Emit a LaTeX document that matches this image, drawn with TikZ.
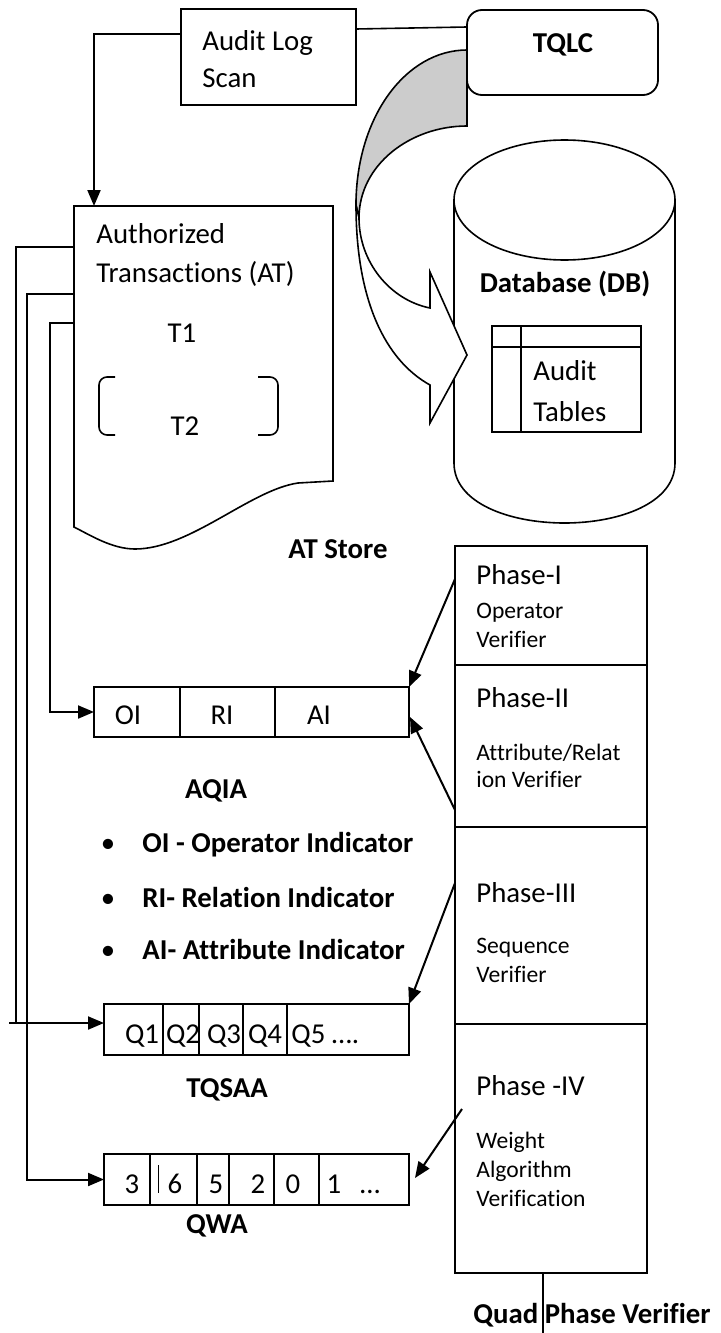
\documentclass[tikz,border=0pt]{standalone}
\usepackage{fontspec}
\setmainfont{Carlito}[Ligatures=NoCommon]
\usetikzlibrary{arrows.meta, positioning, calc}

\begin{document}
\begin{tikzpicture}[
    x=0.5pt, y=-0.5pt,
    box/.style={rectangle, draw, line width=0.9pt, inner sep=0pt, outer sep=0pt},
    lbl/.style={inner sep=0pt, font={\fontsize{14.4pt}{19.5pt}\selectfont}},
    bold/.style={inner sep=0pt, font={\fontsize{14.4pt}{19.5pt}\selectfont\bfseries}},
    small/.style={inner sep=0pt, font={\fontsize{11.8pt}{14.5pt}\selectfont}},
    arrow/.style={-{Triangle[length=8pt, width=6.5pt]}, line width=1pt},
    wire/.style={line width=0.8pt}
]
    \useasboundingbox (0,0) rectangle (720,1333);

    % log scan and TQLC
    \node[box, minimum width=87.5pt, minimum height=48pt] (audit) at (268.5,57) {};
    \node[lbl, anchor=base west, align=left] (audittxt) at (202,87) {Audit Log\\[-1pt]Scan};
    \node[box, rounded corners=7.5pt, minimum width=95.5pt, minimum height=42.5pt] (tqlc) at (562.5,52.5) {};
    \node[bold, anchor=base] (tqlctxt) at (563,52) {TQLC};

    % database cylinder
    \draw[wire] (454,200) -- (454,463) .. controls (454,543) and (675,543) .. (675,463) -- (675,200);
    \draw[wire] (564.5,200) ellipse [x radius=110.5, y radius=60];
    \node[bold, anchor=base] (dbtxt) at (565,292) {Database (DB)};
    \node[box, minimum width=74.5pt, minimum height=53pt] (tbl) at (566.5,379) {};
    \draw[wire] ($(tbl.north west)+(0,21)$) -- ($(tbl.north east)+(0,21)$);
    \draw[wire] ($(tbl.north west)+(29,0)$) -- ($(tbl.south west)+(29,0)$);
    \node[lbl, anchor=base west, align=left] (tbltxt) at (533,421) {Audit\\[1pt]Tables};

    % curved arrow TQLC -> DB
    \filldraw[wire, fill=gray!40] (467,50) .. controls (406,50) and (356,117) .. (356,205)
        -- (359,218) .. controls (359,165) and (410,126) .. (467,126) -- cycle;
    \filldraw[wire, fill=white] (356,205) .. controls (356,300) and (385,360) .. (430,385)
        -- (430,423) -- (467,355) -- (430,272) -- (430,308)
        .. controls (390,300) and (359,262) .. (359,218) -- cycle;

    % AT store document
    \draw[wire] (74,206) -- (333,206) -- (333,481) -- (298,483)
        .. controls (250,490) and (190,549) .. (135,549)
        .. controls (112,549) and (90,535) .. (74,527) -- cycle;
    \node[lbl, anchor=base west, align=left] (attxt) at (96,282) {Authorized\\Transactions (AT)};
    \node[lbl, anchor=base] (t1) at (182,342) {T1};
    \node[lbl, anchor=base] (t2) at (185,435) {T2};
    \draw[wire, rounded corners=4pt] (115,377) -- (99,377) -- (99,435) -- (115,435);
    \draw[wire, rounded corners=4pt] (258,377) -- (278,377) -- (278,435) -- (258,435);
    \node[bold, anchor=base] (atlbl) at (338,558) {AT Store};
    \coordinate (attop) at (94,206);
    \coordinate (atl1) at (74,247);
    \coordinate (atl2) at (74,294);
    \coordinate (atl3) at (74,323);

    % quad phase verifier
    \node[box, minimum width=96pt, minimum height=59.5pt] (phase1) at (551,605.5) {};
    \node[box, minimum width=96pt, minimum height=81pt, below=0pt of phase1] (phase2) {};
    \node[box, minimum width=96pt, minimum height=98.5pt, below=0pt of phase2] (phase3) {};
    \node[box, minimum width=96pt, minimum height=124.5pt, below=0pt of phase3] (phase4) {};
    \node[lbl, anchor=base west] (p1name) at ($(phase1.north west)+(21,38)$) {Phase-I};
    \node[small, anchor=base west, align=left] (p1desc) at ($(phase1.north west)+(21,101)$) {Operator\\Verifier};
    \node[lbl, anchor=base west] (p2name) at ($(phase2.north west)+(21,42)$) {Phase-II};
    \node[small, anchor=base west, align=left] (p2desc) at ($(phase2.north west)+(21,122)$) {Attribute/Relat\\[-1pt]ion Verifier};
    \node[lbl, anchor=base west] (p3name) at ($(phase3.north west)+(21,75)$) {Phase-III};
    \node[small, anchor=base west, align=left] (p3desc) at ($(phase3.north west)+(21,155)$) {Sequence\\Verifier};
    \node[lbl, anchor=base west] (p4name) at ($(phase4.north west)+(21,71)$) {Phase -IV};
    \node[small, anchor=base west, align=left] (p4desc) at ($(phase4.north west)+(21,182)$) {Weight\\Algorithm\\Verification};
    \coordinate (stemend) at (543,1333);
    \draw[wire] (phase4.south -| stemend) -- (stemend);
    \node[bold, anchor=base west] (qpv) at (473,1323) {Quad Phase Verifier};

    % AQIA
    \node[box, minimum width=157.5pt, minimum height=25pt] (aqia) at (251.5,712) {};
    \foreach \x in {180,275} \draw[wire] (\x,687) -- (\x,737);
    \node[lbl, anchor=base] (oi) at (128,724) {OI};
    \node[lbl, anchor=base] (ri) at (222,724) {RI};
    \node[lbl, anchor=base] (ai) at (319,724) {AI};
    \node[bold, anchor=base] (aqialbl) at (216,798) {AQIA};
    \node[lbl, anchor=base] (dot1) at (108,852) {•};
    \node[bold, anchor=base west] (oidef) at (142,852) {OI - Operator Indicator};
    \node[lbl, anchor=base] (dot2) at (108,907) {•};
    \node[bold, anchor=base west] (ridef) at (142,907) {RI- Relation Indicator};
    \node[lbl, anchor=base] (dot3) at (108,959) {•};
    \node[bold, anchor=base west] (aidef) at (142,959) {AI- Attribute Indicator};

    % TQSAA
    \node[box, minimum width=152.5pt, minimum height=25.5pt] (tqsaa) at (256.5,1029.5) {};
    \foreach \x in {163,199,243,287} \draw[wire] (\x,1004) -- (\x,1055);
    \foreach \q/\x in {1/142,2/183,3/224,4/265} \node[lbl, anchor=base] (q\q) at (\x,1043) {Q\q};
    \node[lbl, anchor=base west] (q5) at (291,1043) {Q5 ….};
    \node[bold, anchor=base] (tqsaalbl) at (227,1097) {TQSAA};

    % QWA
    \node[box, minimum width=152.5pt, minimum height=25.5pt] (qwa) at (256.5,1179.5) {};
    \foreach \x in {150,197,229,274,319} \draw[wire] (\x,1154) -- (\x,1205);
    \draw[line width=0.4pt] (158,1165) -- (158,1193);
    \foreach \v/\x in {3/132,6/175,5/216,2/258,0/293,1/334} \node[lbl, anchor=base] (w\v) at (\x,1193) {\v};
    \node[lbl, anchor=base] (wdots) at (370,1193) {…};
    \node[bold, anchor=base] (qwalbl) at (217,1233) {QWA};

    % connectors
    \coordinate (tqin) at ($(tqsaa.west)+(0,-6.5)$);
    \draw[arrow] ($(audit.north west)+(0,25)$) -| (attop);
    \draw[wire] ($(audit.north east)+(0,20)$) -- ($(tqlc.north west)+(0,17)$);
    \draw[wire] (atl1) -| ($(tqin)+(-88,0)$);
    \draw[arrow] ($(tqin)+(-95,0)$) -- (tqin);
    \draw[arrow] (atl2) -| ($(qwa.west)+(-77,0)$) -- (qwa.west);
    \draw[arrow] (atl3) -| ($(aqia.west)+(-44,0)$) -- (aqia.west);
    \draw[arrow] ($(phase1.north west)+(0,33)$) -- (aqia.north east);
    \draw[arrow] ($(phase2.north west)+(0,145)$) -- ($(aqia.east)+(1,5)$);
    \draw[arrow] ($(phase3.north west)+(0,56)$) -- (tqsaa.north east);
    \draw[arrow] ($(phase4.north west)+(7,85)$) -- ($(qwa.east)+(6,-1.5)$);
\end{tikzpicture}
\end{document}
